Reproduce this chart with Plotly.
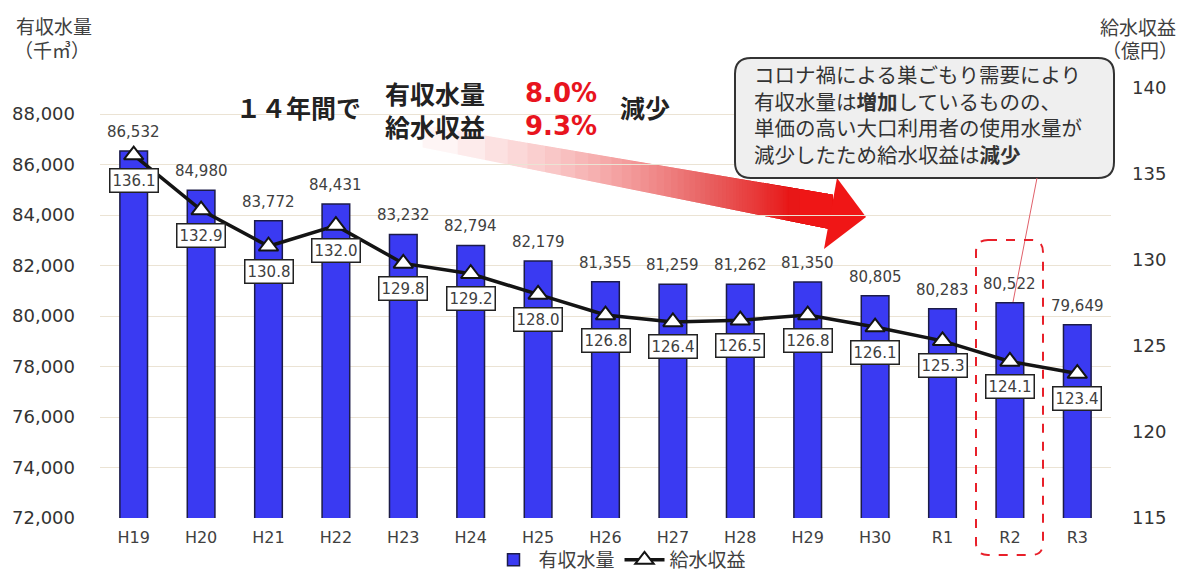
import math
import plotly.graph_objects as go

# ---------------- data ----------------
categories = ["H19", "H20", "H21", "H22", "H23", "H24", "H25", "H26",
              "H27", "H28", "H29", "H30", "R1", "R2", "R3"]
water_volume = [86532, 84980, 83772, 84431, 83232, 82794, 82179, 81355,
                81259, 81262, 81350, 80805, 80283, 80522, 79649]   # 千㎥
revenue = [136.1, 132.9, 130.8, 132.0, 129.8, 129.2, 128.0, 126.8,
           126.4, 126.5, 126.8, 126.1, 125.3, 124.1, 123.4]        # 億円
left_ticks = [72000, 74000, 76000, 78000, 80000, 82000, 84000, 86000, 88000]
right_ticks = [115, 120, 125, 130, 135, 140]

W, H = 1183, 574
L, R, T, B = 100, 1111, 88, 518   # plot area in pixels

NUM = "DejaVu Sans, Noto Sans CJK JP"
JP = "Noto Sans CJK JP, DejaVu Sans"


def px(x):
    return (x - L) / (R - L)


def py(y):
    return (B - y) / (B - T)


def P(x, y):
    return f"{px(x):.5f},{py(y):.5f}"


def rrect(x0, y0, x1, y1, r):
    return (f"M{P(x0 + r, y0)} L{P(x1 - r, y0)} Q{P(x1, y0)} {P(x1, y0 + r)} "
            f"L{P(x1, y1 - r)} Q{P(x1, y1)} {P(x1 - r, y1)} "
            f"L{P(x0 + r, y1)} Q{P(x0, y1)} {P(x0, y1 - r)} "
            f"L{P(x0, y0 + r)} Q{P(x0, y0)} {P(x0 + r, y0)} Z")


fig = go.Figure()
fig.add_trace(go.Bar(
    x=categories, y=water_volume, name="有収水量", width=0.41,
    marker=dict(color="#3a3af2", line=dict(color="#1c1c48", width=1.5)),
    yaxis="y", hoverinfo="x+y"))
fig.add_trace(go.Scatter(
    x=categories, y=revenue, name="給水収益", yaxis="y2",
    mode="lines+markers",
    line=dict(color="#141414", width=3.5),
    marker=dict(symbol="triangle-up", size=17, color="white",
                line=dict(color="#141414", width=2))))

annotations = []
# bar value labels
for c, v in zip(categories, water_volume):
    annotations.append(dict(x=c, y=v, xref="x", yref="y", text=f"{v:,}",
                            showarrow=False, yanchor="bottom", yshift=8,
                            font=dict(family=NUM, size=15, color="#404040")))
# line value labels
for c, v in zip(categories, revenue):
    annotations.append(dict(x=c, y=v, xref="x", yref="y2", text=f"{v:.1f}",
                            showarrow=False, yanchor="middle", yshift=-25,
                            bgcolor="white", bordercolor="#222222",
                            borderwidth=1.5, borderpad=2,
                            font=dict(family=NUM, size=15, color="#404040")))

# axis titles
for txt, x, y in [("有収水量", 54, 25), ("（千㎥）", 52, 50),
                  ("給水収益", 1138, 26), ("（億円）", 1140, 50)]:
    annotations.append(dict(x=px(x), y=py(y), xref="paper", yref="paper",
                            text=txt, showarrow=False, xanchor="center",
                            yanchor="middle",
                            font=dict(family=JP, size=19, color="#404040")))

# headline texts
for txt, x, y, col, fam, sz in [
        ("<b>１４年間で</b>", 298, 107, "#222222", JP, 25),
        ("<b>有収水量</b>", 435, 93, "#222222", JP, 25),
        ("<b>給水収益</b>", 435, 126, "#222222", JP, 25),
        ("<b>8.0%</b>", 561, 93, "#e8141e", NUM, 26),
        ("<b>9.3%</b>", 561, 126, "#e8141e", NUM, 26),
        ("<b>減少</b>", 645, 107, "#222222", JP, 25)]:
    annotations.append(dict(x=px(x), y=py(y), xref="paper", yref="paper",
                            text=txt, showarrow=False, xanchor="center",
                            yanchor="middle",
                            font=dict(family=fam, size=sz, color=col)))

# callout text (one block)
callout_lines = ["コロナ禍による巣ごもり需要により",
                 "有収水量は<b>増加</b>しているものの、",
                 "単価の高い大口利用者の使用水量が",
                 "減少したため給水収益は<b>減少</b>"]
annotations.append(dict(x=px(752), y=py(114), xref="paper", yref="paper",
                        text="<br>".join(callout_lines), showarrow=False,
                        xanchor="left", yanchor="middle", align="left",
                        font=dict(family=JP, size=20.5, color="#333333")))

shapes = []
# gradient arrow (decorative): stacked translucent layers, each running to the head
x_start, x_end = 340.0, 832.0


def cy(x):
    return 121 + (x - x_start) * (91.0 / (x_end - x_start))


def hw(x):
    return 10 + (x - x_start) / (x_end - x_start) * 7.5


def band(xa, xb):
    return (f"M{P(xa, cy(xa) - hw(xa))} L{P(xb, cy(xb) - hw(xb))} "
            f"L{P(xb, cy(xb) + hw(xb))} L{P(xa, cy(xa) + hw(xa))} Z")


g0, g1 = 350.0, 800.0
a = 0.045
K = int(math.log(1 - 0.96) / math.log(1 - a))
for j in range(1, K + 1):
    f = 1 - (1 - a) ** j
    xa = g0 + (g1 - g0) * f ** (1 / 1.7)
    shapes.append(dict(type="path", xref="paper", yref="paper",
                       path=band(xa, x_end + 1),
                       fillcolor=f"rgba(240,22,22,{a})",
                       line=dict(width=0), layer="below"))
shapes.append(dict(type="path", xref="paper", yref="paper",
                   path=band(g1, x_end + 1),
                   fillcolor="rgba(240,22,22,0.8)", line=dict(width=0),
                   layer="below"))
shapes.append(dict(type="path", xref="paper", yref="paper",
                   path=f"M{P(837, 178)} L{P(866, 217)} L{P(824, 249)} Z",
                   fillcolor="rgb(240,22,22)", line=dict(width=0),
                   layer="below"))

# callout box
shapes.append(dict(type="path", xref="paper", yref="paper",
                   path=rrect(735, 58, 1114, 178, 16),
                   fillcolor="#efefef", line=dict(color="#333333", width=2),
                   layer="above"))
# pointer line from callout to R2
shapes.append(dict(type="line", xref="paper", yref="paper",
                   x0=px(1037), y0=py(178), x1=px(1013), y1=py(302),
                   line=dict(color="#e0606a", width=1)))
# dashed highlight around R2
shapes.append(dict(type="path", xref="paper", yref="paper",
                   path=rrect(976, 240, 1043, 555, 12),
                   fillcolor="rgba(0,0,0,0)",
                   line=dict(color="#e8202a", width=2, dash="dash")))

fig.update_layout(
    width=W, height=H,
    margin=dict(l=L, r=W - R, t=T, b=H - B, autoexpand=False),
    paper_bgcolor="white", plot_bgcolor="white",
    showlegend=True,
    legend=dict(orientation="h", x=px(620), y=py(560), xanchor="center",
                yanchor="middle", font=dict(family=JP, size=19, color="#404040"),
                itemwidth=40, bgcolor="rgba(0,0,0,0)",
                tracegroupgap=0, borderwidth=0),
    xaxis=dict(type="category", range=[-0.5, len(categories) - 0.5],
               showgrid=False, ticks="", showline=False,
               automargin=False,
               tickfont=dict(family=NUM, size=16, color="#404040"),
               ticklabelstandoff=8),
    yaxis=dict(range=[72000, 89030], tickvals=left_ticks,
               ticktext=[f"{v:,}" for v in left_ticks], automargin=False,
               showgrid=True, gridcolor="#ebe3d4", gridwidth=1,
               zeroline=False, showline=False, ticks="",
               tickfont=dict(family=NUM, size=18, color="#333333"),
               ticklabelstandoff=24),
    yaxis2=dict(range=[115, 140], tickvals=right_ticks, overlaying="y",
                side="right", showgrid=False, zeroline=False, showline=False,
                automargin=False,
                ticks="", tickfont=dict(family=NUM, size=18, color="#333333"),
                ticklabelstandoff=20),
    annotations=annotations,
    shapes=shapes,
)

fig.write_html("out.html")
